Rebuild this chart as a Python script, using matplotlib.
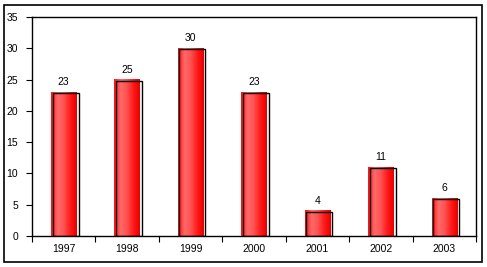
import numpy as np
import matplotlib
matplotlib.use('Agg')
import matplotlib.pyplot as plt
from matplotlib.colors import LinearSegmentedColormap
from matplotlib.patches import Rectangle

years = ['1997', '1998', '1999', '2000', '2001', '2002', '2003']
counts = [23, 25, 30, 23, 4, 11, 6]

plt.rcParams['font.family'] = ['Liberation Sans', 'DejaVu Sans']
fig = plt.figure(figsize=(4.87, 2.67), dpi=100)
fig.patches.append(Rectangle((4 / 487, 5 / 267), 478 / 487, 257 / 267,
                             transform=fig.transFigure, fill=False,
                             edgecolor='black', linewidth=1.2))
ax = fig.add_axes([32 / 487, 1 - 236 / 267, 444 / 487, 219 / 267])

cmap = LinearSegmentedColormap.from_list(
    'redgrad', ['#ff1010', '#ff6a6a', '#ff5050', '#ff1a1a', '#e80000'])
grad = np.linspace(0, 1, 64).reshape(1, -1)
w = 0.4
for i, v in enumerate(counts):
    # black outline slightly shifted right
    ax.add_patch(Rectangle((i - w / 2 + 0.025, 0), w + 0.01, v - 0.15,
                           fill=False, edgecolor='black', linewidth=1.0, zorder=3))
    ax.imshow(grad, cmap=cmap, aspect='auto', extent=(i - w / 2, i + w / 2, 0, v),
              zorder=2, interpolation='bilinear')
    ax.text(i, v + 0.8, str(v), ha='center', va='bottom', fontsize=7.5)

ax.set_xlim(-0.5, len(years) - 0.5)
ax.set_ylim(0, 35)
ax.set_yticks(range(0, 36, 5))
ax.set_xticks(range(len(years)))
ax.set_xticklabels(years)
ax.set_xticks(np.arange(-0.5, len(years), 1.0), minor=True)
ax.tick_params(axis='x', which='major', length=0, labelsize=7.5, pad=6)
ax.tick_params(axis='x', which='minor', length=4, direction='out', width=0.8)
ax.tick_params(axis='y', length=4, direction='out', width=0.8, labelsize=7.5, pad=6)
for s in ax.spines.values():
    s.set_linewidth(1.0)

fig.savefig('out.png', dpi=100)
